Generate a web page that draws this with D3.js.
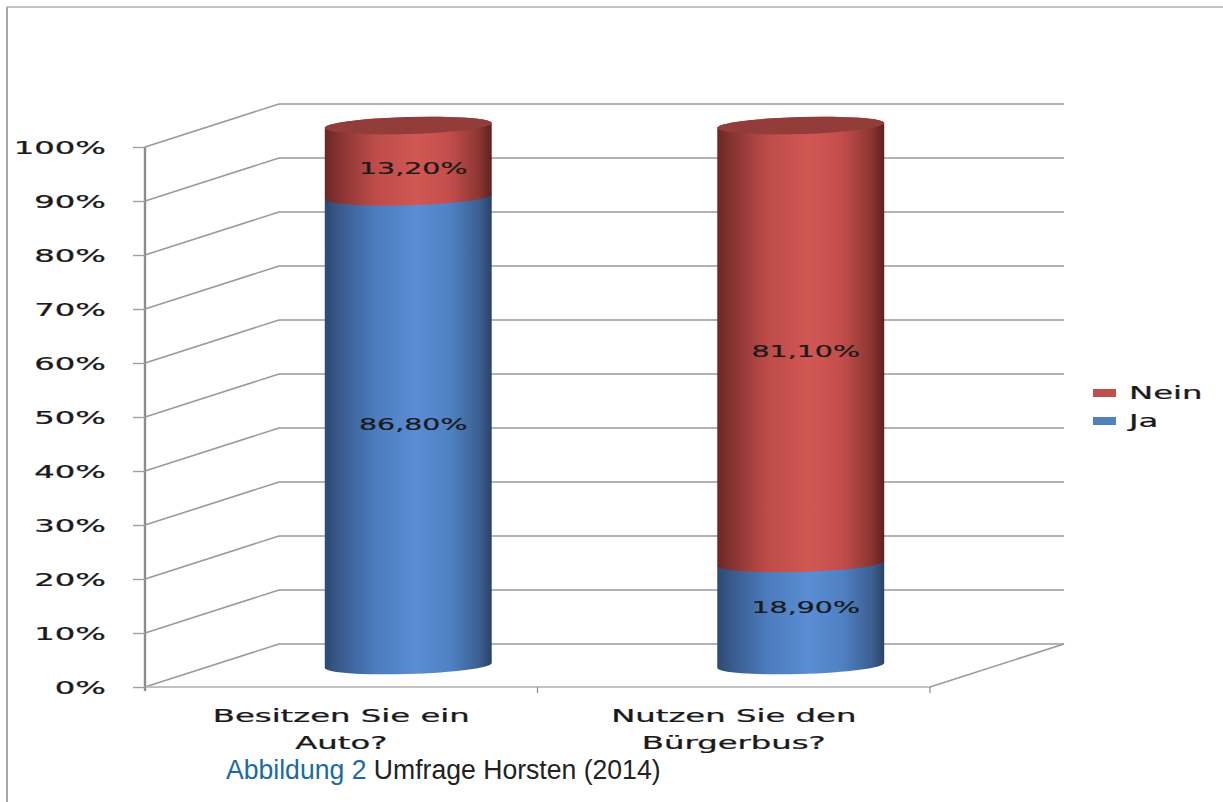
<!DOCTYPE html>
<html>
<head>
<meta charset="utf-8">
<script src="https://cdn.jsdelivr.net/npm/d3@7"></script>
<style>
  html, body { margin: 0; padding: 0; background: #ffffff; }
  svg { display: block; }
</style>
</head>
<body>
<svg id="chart" width="1223" height="802"></svg>
<script>
// Survey answers per question (percent)
const categories = ["Besitzen Sie ein Auto?", "Nutzen Sie den Bürgerbus?"];
const categoryLines = [["Besitzen Sie ein", "Auto?"], ["Nutzen Sie den", "Bürgerbus?"]];
const seriesNames = ["Ja", "Nein"];
const jaValues = [86.8, 18.9];
const neinValues = [13.2, 81.1];
const valueLabels = [["86,80%", "13,20%"], ["18,90%", "81,10%"]];
const yTicks = [0, 10, 20, 30, 40, 50, 60, 70, 80, 90, 100];
const legendOrder = ["Nein", "Ja"];
const captionParts = [["Abbildung 2", "#1c6aa3"], [" Umfrage Horsten (2014)", "#222222"]];

const svg = d3.select("#chart");
const W = 1223, H = 802;

// frame
svg.append("line").attr("x1", 7).attr("y1", 7).attr("x2", W).attr("y2", 7)
  .attr("stroke", "#c4c4c4").attr("stroke-width", 2);
svg.append("line").attr("x1", 7).attr("y1", 7).attr("x2", 7).attr("y2", H)
  .attr("stroke", "#a8a8a8").attr("stroke-width", 2);

// plot geometry: front plane + depth offset of the 3D box
const plotLeft = 145, plotRight = 930, plotTop = 147, plotBottom = 687;
const depthX = 134, depthY = -43;

const y = d3.scaleLinear().domain([0, 100]).range([plotBottom, plotTop]);
const x = d3.scaleBand().domain(categories).range([plotLeft, plotRight]);
const color = d3.scaleOrdinal().domain(seriesNames).range(["#4f81bd", "#c0504d"]);

const stretch = 1.9; // wide chart lettering
const chartFont = "'DejaVu Sans', Verdana, sans-serif";
const ink = "#1a1a1a";

// side wall + back wall gridlines
const grid = svg.append("g");
yTicks.forEach(t => {
  const yy = y(t);
  grid.append("path")
    .attr("d", `M${plotLeft},${yy}L${plotLeft + depthX},${yy + depthY}L${plotRight + depthX},${yy + depthY}`)
    .attr("fill", "none").attr("stroke", "#9a9a9a").attr("stroke-width", 1.6);
});

// floor front edge and right edge
svg.append("line").attr("x1", plotLeft).attr("y1", plotBottom).attr("x2", plotRight).attr("y2", plotBottom)
  .attr("stroke", "#c2c2c2").attr("stroke-width", 2.2);
svg.append("line").attr("x1", plotRight).attr("y1", plotBottom).attr("x2", plotRight + depthX).attr("y2", plotBottom + depthY)
  .attr("stroke", "#9a9a9a").attr("stroke-width", 1.6);

// category boundary ticks on the floor edge
const bounds = [plotLeft + x.step(), plotRight];
bounds.forEach(bx => {
  svg.append("line").attr("x1", bx).attr("y1", plotBottom).attr("x2", bx).attr("y2", plotBottom + 6)
    .attr("stroke", "#8a8a8a").attr("stroke-width", 1.2);
});

// value axis
const yAxis = d3.axisLeft(y).tickValues(yTicks).tickFormat(d => d + "%").tickSize(12).tickPadding(0);
const axG = svg.append("g").attr("transform", `translate(${plotLeft},0)`).call(yAxis);
axG.select(".domain").attr("stroke", "#8c8c8c").attr("stroke-width", 2.4)
  .attr("d", `M0,${plotBottom + 4}V${plotTop}`);
axG.selectAll(".tick line").attr("stroke", "#a0a0a0").attr("stroke-width", 1.4);
axG.selectAll(".tick text")
  .attr("x", 0).attr("dy", "0.36em")
  .attr("transform", `translate(-39,0) scale(${stretch},1)`)
  .attr("fill", ink).attr("stroke", ink).attr("stroke-width", 0.25)
  .attr("font-family", chartFont).attr("font-size", 17)
  .attr("text-anchor", "end");

// gradients for the cylinder bodies
const defs = svg.append("defs");
function bodyGradient(id, stops) {
  const g = defs.append("linearGradient").attr("id", id)
    .attr("x1", "0%").attr("x2", "100%").attr("y1", "0%").attr("y2", "0%");
  stops.forEach(([o, c]) => g.append("stop").attr("offset", o).attr("stop-color", c));
}
bodyGradient("grad-Ja", [["0%", "#2b4a72"], ["8%", "#38598a"], ["30%", "#4c7cbe"], ["55%", "#5a8dd4"], ["75%", "#4f81c3"], ["92%", "#3c6193"], ["100%", "#2a4366"]]);
bodyGradient("grad-Nein", [["0%", "#6a2725"], ["8%", "#843331"], ["30%", "#bd4c49"], ["55%", "#d15754"], ["75%", "#c24e4b"], ["92%", "#8d3633"], ["100%", "#5c2120"]]);

// cylinders
const rx = 83.5, ry = 8.5, tilt = -1.7;
const tr = tilt * Math.PI / 180;
const ex = rx * Math.cos(tr), ey = rx * Math.sin(tr);

function segPath(cx, yTop, yBot) {
  return `M${cx - ex},${yTop - ey}` +
    `L${cx - ex},${yBot - ey}` +
    `A${rx},${ry} ${tilt} 0 0 ${cx + ex},${yBot + ey}` +
    `L${cx + ex},${yTop + ey}` +
    `A${rx},${ry} ${tilt} 0 0 ${cx - ex},${yTop - ey}Z`;
}

const cyl = svg.append("g");
const labels = svg.append("g");
categories.forEach((cat, i) => {
  const cx = x(cat) + x.bandwidth() / 2 + depthX / 2;
  const yc = v => y(v) + depthY / 2;
  const stack = [
    { name: "Ja", v0: 0, v1: jaValues[i], label: valueLabels[i][0], nudge: -7 },
    { name: "Nein", v0: jaValues[i], v1: jaValues[i] + neinValues[i], label: valueLabels[i][1], nudge: 7 }
  ];
  stack.forEach(s => {
    cyl.append("path").attr("d", segPath(cx, yc(s.v1), yc(s.v0)))
      .attr("fill", `url(#grad-${s.name})`);
  });
  const last = stack[stack.length - 1];
  cyl.append("ellipse")
    .attr("cx", cx).attr("cy", yc(last.v1)).attr("rx", rx).attr("ry", ry)
    .attr("transform", `rotate(${tilt},${cx},${yc(last.v1)})`)
    .attr("fill", d3.color(color(last.name)).darker(0.75));
  stack.forEach(s => {
    labels.append("g")
      .attr("transform", `translate(${cx + 5},${yc((s.v0 + s.v1) / 2) + s.nudge}) scale(${stretch},1)`)
      .append("text")
      .attr("text-anchor", "middle").attr("dy", "0.36em")
      .attr("font-family", chartFont).attr("font-size", 15)
      .attr("fill", ink).attr("stroke", ink).attr("stroke-width", 0.2)
      .text(s.label);
  });
});

// category labels
categories.forEach((cat, i) => {
  const cx = x(cat) + x.bandwidth() / 2;
  categoryLines[i].forEach((line, j) => {
    svg.append("g")
      .attr("transform", `translate(${cx},${plotBottom + 35 + j * 27}) scale(${stretch},1)`)
      .append("text").attr("text-anchor", "middle")
      .attr("font-family", chartFont).attr("font-size", 17)
      .attr("fill", ink).attr("stroke", ink).attr("stroke-width", 0.25)
      .text(line);
  });
});

// legend
const legend = svg.append("g").attr("transform", "translate(1093,389)");
legendOrder.forEach((name, i) => {
  const row = legend.append("g").attr("transform", `translate(0,${i * 28})`);
  row.append("rect").attr("width", 23).attr("height", 8).attr("fill", color(name));
  row.append("g").attr("transform", `translate(36,4) scale(${stretch},1)`)
    .append("text").attr("dy", "0.36em")
    .attr("font-family", chartFont).attr("font-size", 17)
    .attr("fill", ink).attr("stroke", ink).attr("stroke-width", 0.25)
    .text(name);
});

// caption
const cap = svg.append("g").attr("transform", "translate(226,779) scale(0.95,1)")
  .append("text").attr("font-family", "'Liberation Sans', Arial, sans-serif").attr("font-size", 28);
captionParts.forEach(([t, c]) => cap.append("tspan").attr("fill", c).text(t));
</script>
</body>
</html>
